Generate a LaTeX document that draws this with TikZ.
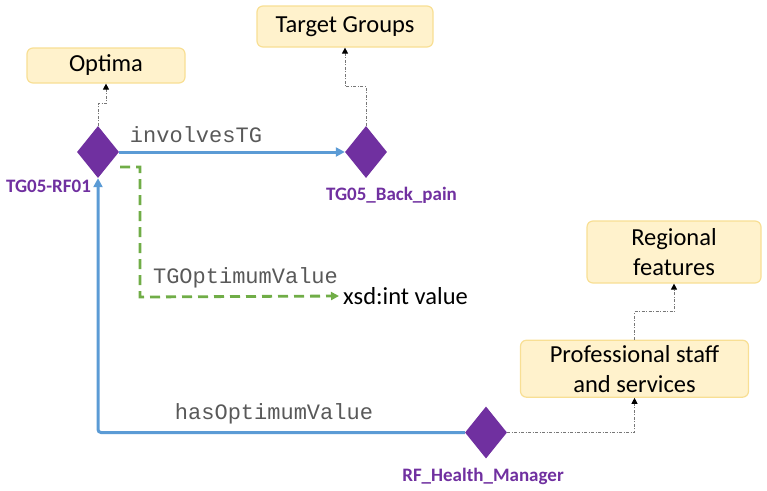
\documentclass[tikz,border=0pt]{standalone}
\usepackage{fontspec}
\setmainfont{Carlito}
\newfontfamily\monofam{Liberation Mono}
\usetikzlibrary{shapes.geometric,arrows.meta}
\definecolor{boxfill}{HTML}{FFF2CC}
\definecolor{boxdraw}{HTML}{F8DF94}
\definecolor{purp}{HTML}{7030A0}
\definecolor{blu}{HTML}{5B9BD5}
\definecolor{grn}{HTML}{70AD47}
\definecolor{lblgray}{HTML}{595959}
\definecolor{dotgray}{HTML}{777777}
\tikzset{
  box/.style={draw=boxdraw, fill=boxfill, line width=1.2pt, rounded corners=6pt, inner sep=0pt,
    font=\fontsize{24.5}{30}\selectfont, align=center, text=black},
  diam/.style={diamond, fill=purp, draw=none, inner sep=0pt, minimum width=42pt, minimum height=52pt},
  dlabel/.style={font=\fontsize{19}{20}\selectfont\bfseries, text=purp, inner sep=0pt},
  plabel/.style={font=\monofam\fontsize{22}{24}\selectfont, text=lblgray, inner sep=0pt},
  plain/.style={font=\fontsize{24.5}{26}\selectfont, text=black, inner sep=0pt},
  bluearrow/.style={draw=blu, line width=3pt, -{Triangle[length=9pt,width=9pt]}},
  grnarrow/.style={draw=grn, line width=2.8pt, dash pattern=on 10pt off 6pt, -{Triangle[length=8pt,width=8pt]}},
  dotconn/.style={draw=dotgray, line width=1pt, dash pattern=on 3pt off 1.5pt on 1pt off 1.5pt,
    -{Triangle[length=6pt,width=6pt]}, arrows={[color=black]}},
}
\begin{document}
\begin{tikzpicture}[x=1pt,y=-1pt]
\useasboundingbox (0,0) rectangle (767,490);
% boxes
\node[box, minimum width=158pt, minimum height=35pt] (optima) at (106,65.5) {Optima};
\node[box, minimum width=176pt, minimum height=41pt] (tg) at (345,26.5) {Target Groups};
\node[box, minimum width=174pt, minimum height=62pt] (reg) at (674,252) {Regional\\features};
\node[box, minimum width=228pt, minimum height=57pt] (prof) at (634.5,368.7) {Professional staff\\and services};
% diamonds
\node[diam] (rf01) at (98,152) {};
\node[diam] (bp) at (366,152) {};
\node[diam] (hm) at (486,432.5) {};
% diamond labels
\node[dlabel] (lrf01) at (48.5,186) {TG05-RF01};
\node[dlabel] (lbp) at (391.5,195) {TG05\_Back\_pain};
\node[dlabel] (lhm) at (483,476) {RF\_Health\_Manager};
% property labels
\node[plabel] (pinv) at (196,135) {involvesTG};
\node[plabel] (ptgo) at (245.5,278) {TGOptimumValue};
\node[plabel] (phas) at (274,414) {hasOptimumValue};
\node[plain, anchor=west, inner xsep=4pt] (xsd) at (339,296) {xsd:int value};
% connectors
\draw[bluearrow] (rf01.east) -- (bp.west);
\draw[bluearrow, rounded corners=3pt] (hm.west) -| (rf01.south);
\coordinate (gs) at (120,167);
\draw[grnarrow] (gs) -- (140,167) -- (140,297) -- (xsd.west);
\draw[dotconn] (rf01.north) -- ++(0,-22) -| (optima.south);
\draw[dotconn] (bp.north) -- ++(0,-39) -| (tg.south);
\draw[dotconn] (prof.north) -- ++(0,-28) -| (reg.south);
\draw[dotconn] (hm.east) -| (prof.south);
\end{tikzpicture}
\end{document}
